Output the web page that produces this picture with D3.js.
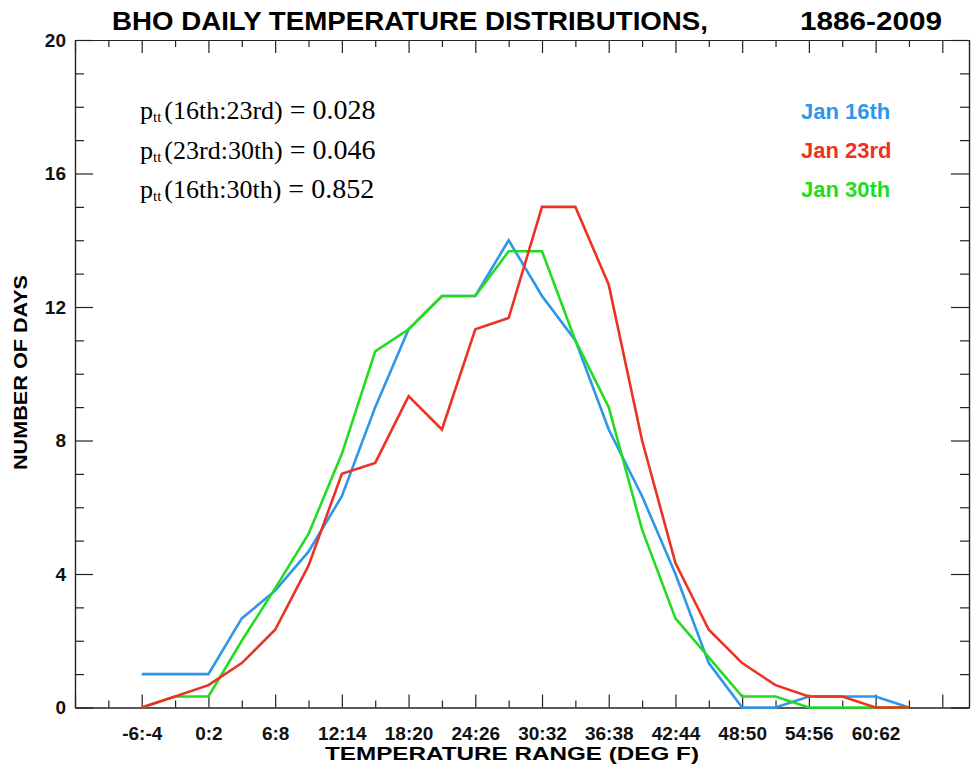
<!DOCTYPE html>
<html>
<head>
<meta charset="utf-8">
<script src="https://cdn.jsdelivr.net/npm/d3@7"></script>
<style>
  body { margin: 0; background: #fff; }
  .axis path, .axis line { stroke: #222; stroke-width: 1.2px; }
  .axis text { font-family: "Liberation Sans", Arial, sans-serif; font-weight: bold; fill: #111; }
</style>
</head>
<body>
<div id="chart"></div>
<script>
var svgWidth = 971;
var svgHeight = 765;

var margin = { top: 40, right: 2, bottom: 57.5, left: 75 };
var width = svgWidth - margin.left - margin.right;
var height = svgHeight - margin.top - margin.bottom;

// temperature bins (3 deg F wide), one point per bin
var bins = ["-6:-4", "-3:-1", "0:2", "3:5", "6:8", "9:11", "12:14", "15:17", "18:20", "21:23",
  "24:26", "27:29", "30:32", "33:35", "36:38", "39:41", "42:44", "45:47", "48:50", "51:53",
  "54:56", "57:59", "60:62", "63:65"];
var xTickLabels = ["-6:-4", "0:2", "6:8", "12:14", "18:20", "24:26", "30:32", "36:38", "42:44", "48:50", "54:56", "60:62"];
var yTicks = [0, 4, 8, 12, 16, 20];

var jan16 = [1, 1, 1, 2.67, 3.5, 4.67, 6.33, 9.0, 11.33, 12.33, 12.33, 14.0, 12.33, 11.0, 8.33, 6.33, 4.0, 1.33, 0, 0, 0.33, 0.33, 0.33, 0];
var jan23 = [0, 0.33, 0.67, 1.33, 2.33, 4.25, 7.0, 7.33, 9.33, 8.33, 11.33, 11.67, 15.0, 15.0, 12.67, 8.0, 4.33, 2.33, 1.33, 0.67, 0.33, 0.33, 0, 0];
var jan30 = [0, 0.33, 0.33, 2.0, 3.57, 5.2, 7.6, 10.67, 11.33, 12.33, 12.33, 13.67, 13.67, 11.0, 9.0, 5.33, 2.67, 1.5, 0.33, 0.33, 0, 0, 0, 0];

var seriesNames = ["Jan 16th", "Jan 23rd", "Jan 30th"];
var seriesColors = ["#2e96e8", "#ec3222", "#22dc22"];
var statLabels = ["(16th:23rd)", "(23rd:30th)", "(16th:30th)"];
var statValues = ["0.028", "0.046", "0.852"];

var svg = d3.select("#chart")
  .append("svg")
  .attr("width", svgWidth)
  .attr("height", svgHeight);

var chartGroup = svg.append("g")
  .attr("transform", `translate(${margin.left}, ${margin.top})`);

// scales: x in bin index units
var xScale = d3.scaleLinear()
  .domain([-2, 24.8])
  .range([0, width]);

var yScale = d3.scaleLinear()
  .domain([0, 20])
  .range([height, 0]);

var xMajor = d3.range(-2, 25, 2);
var xMinor = d3.range(-1, 25, 2);
var yMinor = d3.range(1, 20).filter(d => d % 4 !== 0);

function xLabel(d) {
  var i = xTickLabels.indexOf(bins[d]);
  return (d >= 0 && i >= 0) ? xTickLabels[i] : "";
}

// bottom axis
chartGroup.append("g")
  .attr("class", "axis")
  .attr("transform", `translate(0, ${height})`)
  .call(d3.axisBottom(xScale).tickValues(xMajor).tickSize(-13).tickSizeOuter(0).tickPadding(19).tickFormat(xLabel))
  .selectAll("text").style("font-size", "19px");

chartGroup.append("g")
  .attr("class", "axis")
  .attr("transform", `translate(0, ${height})`)
  .call(d3.axisBottom(xScale).tickValues(xMinor).tickSize(-7).tickSizeOuter(0).tickFormat(""));

// top axis
chartGroup.append("g")
  .attr("class", "axis")
  .call(d3.axisTop(xScale).tickValues(xMajor).tickSize(-13).tickSizeOuter(0).tickFormat(""));

chartGroup.append("g")
  .attr("class", "axis")
  .call(d3.axisTop(xScale).tickValues(xMinor).tickSize(-7).tickSizeOuter(0).tickFormat(""));

// left axis
chartGroup.append("g")
  .attr("class", "axis")
  .call(d3.axisLeft(yScale).tickValues(yTicks).tickSize(-18).tickSizeOuter(0).tickPadding(9).tickFormat(d3.format("d")))
  .selectAll("text").style("font-size", "19px");

chartGroup.append("g")
  .attr("class", "axis")
  .call(d3.axisLeft(yScale).tickValues(yMinor).tickSize(-9).tickSizeOuter(0).tickFormat(""));

// right axis
chartGroup.append("g")
  .attr("class", "axis")
  .attr("transform", `translate(${width}, 0)`)
  .call(d3.axisRight(yScale).tickValues(yTicks).tickSize(-18).tickSizeOuter(0).tickFormat(""));

chartGroup.append("g")
  .attr("class", "axis")
  .attr("transform", `translate(${width}, 0)`)
  .call(d3.axisRight(yScale).tickValues(yMinor).tickSize(-9).tickSizeOuter(0).tickFormat(""));

// lines (red drawn last, on top)
var line = d3.line()
  .x((d, i) => xScale(i))
  .y(d => yScale(d));

var allSeries = [jan16, jan23, jan30];
[0, 2, 1].forEach(function(idx) {
  chartGroup.append("path")
    .datum(allSeries[idx])
    .attr("fill", "none")
    .attr("stroke", seriesColors[idx])
    .attr("stroke-width", 2.6)
    .attr("stroke-linejoin", "miter")
    .attr("d", line);
});

// legend
seriesNames.forEach(function(name, i) {
  svg.append("text")
    .attr("x", 801)
    .attr("y", 119 + i * 39)
    .style("font-family", "Liberation Sans, Arial, sans-serif")
    .style("font-weight", "bold")
    .style("font-size", "22px")
    .attr("fill", seriesColors[i])
    .text(name);
});

// t-test probabilities
statLabels.forEach(function(lab, i) {
  var t = svg.append("text")
    .attr("x", 140)
    .attr("y", 119 + i * 39.5)
    .style("font-family", "Liberation Serif, Times New Roman, serif")
    .style("font-size", "26px")
    .attr("fill", "#000");
  t.append("tspan").text("p");
  t.append("tspan").attr("dy", 3).style("font-size", "15px").text("tt");
  t.append("tspan").attr("dy", -3).attr("dx", 3).text(lab);
  t.append("tspan").style("font-size", "28px").text(" = " + statValues[i]);
});

// titles
svg.append("text")
  .attr("x", 112)
  .attr("y", 30)
  .attr("textLength", 596)
  .attr("lengthAdjust", "spacingAndGlyphs")
  .style("font-family", "Liberation Sans, Arial, sans-serif")
  .style("font-weight", "bold")
  .style("font-size", "26px")
  .text("BHO DAILY TEMPERATURE DISTRIBUTIONS,");

svg.append("text")
  .attr("x", 800)
  .attr("y", 30)
  .attr("textLength", 142)
  .attr("lengthAdjust", "spacingAndGlyphs")
  .style("font-family", "Liberation Sans, Arial, sans-serif")
  .style("font-weight", "bold")
  .style("font-size", "26px")
  .text("1886-2009");

svg.append("text")
  .attr("x", 325)
  .attr("y", 760)
  .attr("textLength", 374)
  .attr("lengthAdjust", "spacingAndGlyphs")
  .style("font-family", "Liberation Sans, Arial, sans-serif")
  .style("font-weight", "bold")
  .style("font-size", "19px")
  .text("TEMPERATURE RANGE (DEG F)");

svg.append("text")
  .attr("transform", "translate(27, 470) rotate(-90)")
  .attr("textLength", 195)
  .attr("lengthAdjust", "spacingAndGlyphs")
  .style("font-family", "Liberation Sans, Arial, sans-serif")
  .style("font-weight", "bold")
  .style("font-size", "19px")
  .text("NUMBER OF DAYS");
</script>
</body>
</html>
